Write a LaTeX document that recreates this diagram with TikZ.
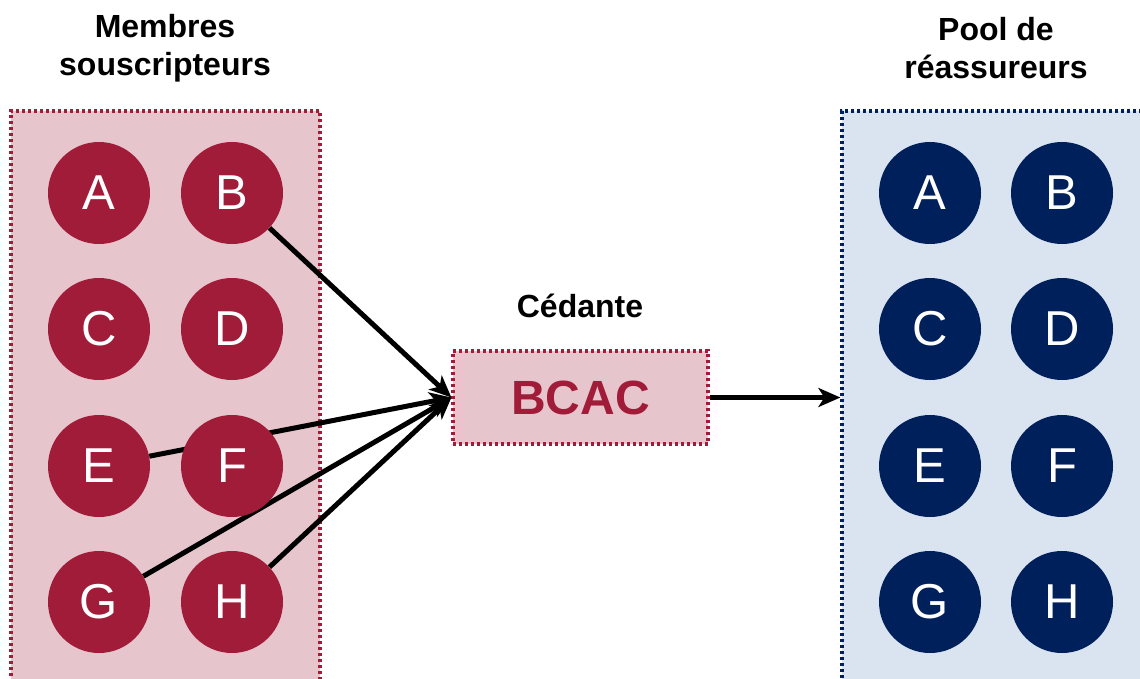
\documentclass[tikz,border=0pt]{standalone}
\usepackage{fontspec}
\setmainfont{Liberation Sans}
\usetikzlibrary{arrows.meta}
\definecolor{bcred}{HTML}{A01C38}
\definecolor{bcpink}{HTML}{E6C5CC}
\definecolor{bcnavy}{HTML}{00205B}
\definecolor{bcblue}{HTML}{DAE4F1}
\pgfdeclarelayer{bg}
\pgfdeclarelayer{edges}
\pgfsetlayers{bg,edges,main}
\tikzset{
  dotbox/.style={draw=#1, line width=3.2pt, dash pattern=on 3pt off 3pt, inner sep=0pt},
  redbox/.style={dotbox=bcred, fill=bcpink},
  bluebox/.style={dotbox=bcnavy, fill=bcblue},
  member/.style={circle, fill=#1, minimum size=102pt, inner sep=0pt, text=white,
                 font=\fontsize{49}{50}\selectfont},
  title/.style={align=center, font=\fontsize{32}{38}\selectfont\bfseries},
  link/.style={line width=5pt, draw=black},
  flow/.style={link, -{Stealth[length=22pt,width=19pt,inset=6pt]}}
}
\begin{document}
\begin{tikzpicture}[x=1pt,y=-1pt]
\useasboundingbox (0,0) rectangle (1140,679);
\clip (0,0) rectangle (1140,679);
% containers
\begin{pgfonlayer}{bg}
\node[redbox, minimum width=309pt, minimum height=590pt] (members) at (165.5,406) {};
\node[bluebox, minimum width=320pt, minimum height=590pt] (pool) at (1002,406) {};
\node[redbox, minimum width=255pt, minimum height=93pt, font=\fontsize{48}{50}\selectfont\bfseries, text=bcred] (bcac) at (580.5,397.5) {BCAC};
\end{pgfonlayer}
% titles
\node[title] (tm) at (165,48) {Membres\\souscripteurs};
\node[title] (tp) at (996,48) {Pool de\\réassureurs};
\node[title] (tc) at (580,306) {Cédante};
% left members
\foreach \n/\x/\y in {A/99/193, B/232/193, C/99/329, D/232/329, E/99/466, F/232/466, G/99/602, H/232/602}{
  \node[member=bcred] (L\n) at (\x,\y) {\n};
}
% right members
\foreach \n/\x/\y in {A/930/193, B/1062/193, C/930/329, D/1062/329, E/930/466, F/1062/466, G/930/602, H/1062/602}{
  \node[member=bcnavy] (R\n) at (\x,\y) {\n};
}
% connectors
\begin{pgfonlayer}{edges}
\draw[flow] (LB) -- (bcac.west);
\draw[flow] (LE) -- (bcac.west);
\draw[flow] (LG) -- (bcac.west);
\draw[flow] (LH) -- (bcac.west);
\draw[flow] (bcac.east) -- (bcac.east -| pool.west);
\end{pgfonlayer}
\end{tikzpicture}
\end{document}
